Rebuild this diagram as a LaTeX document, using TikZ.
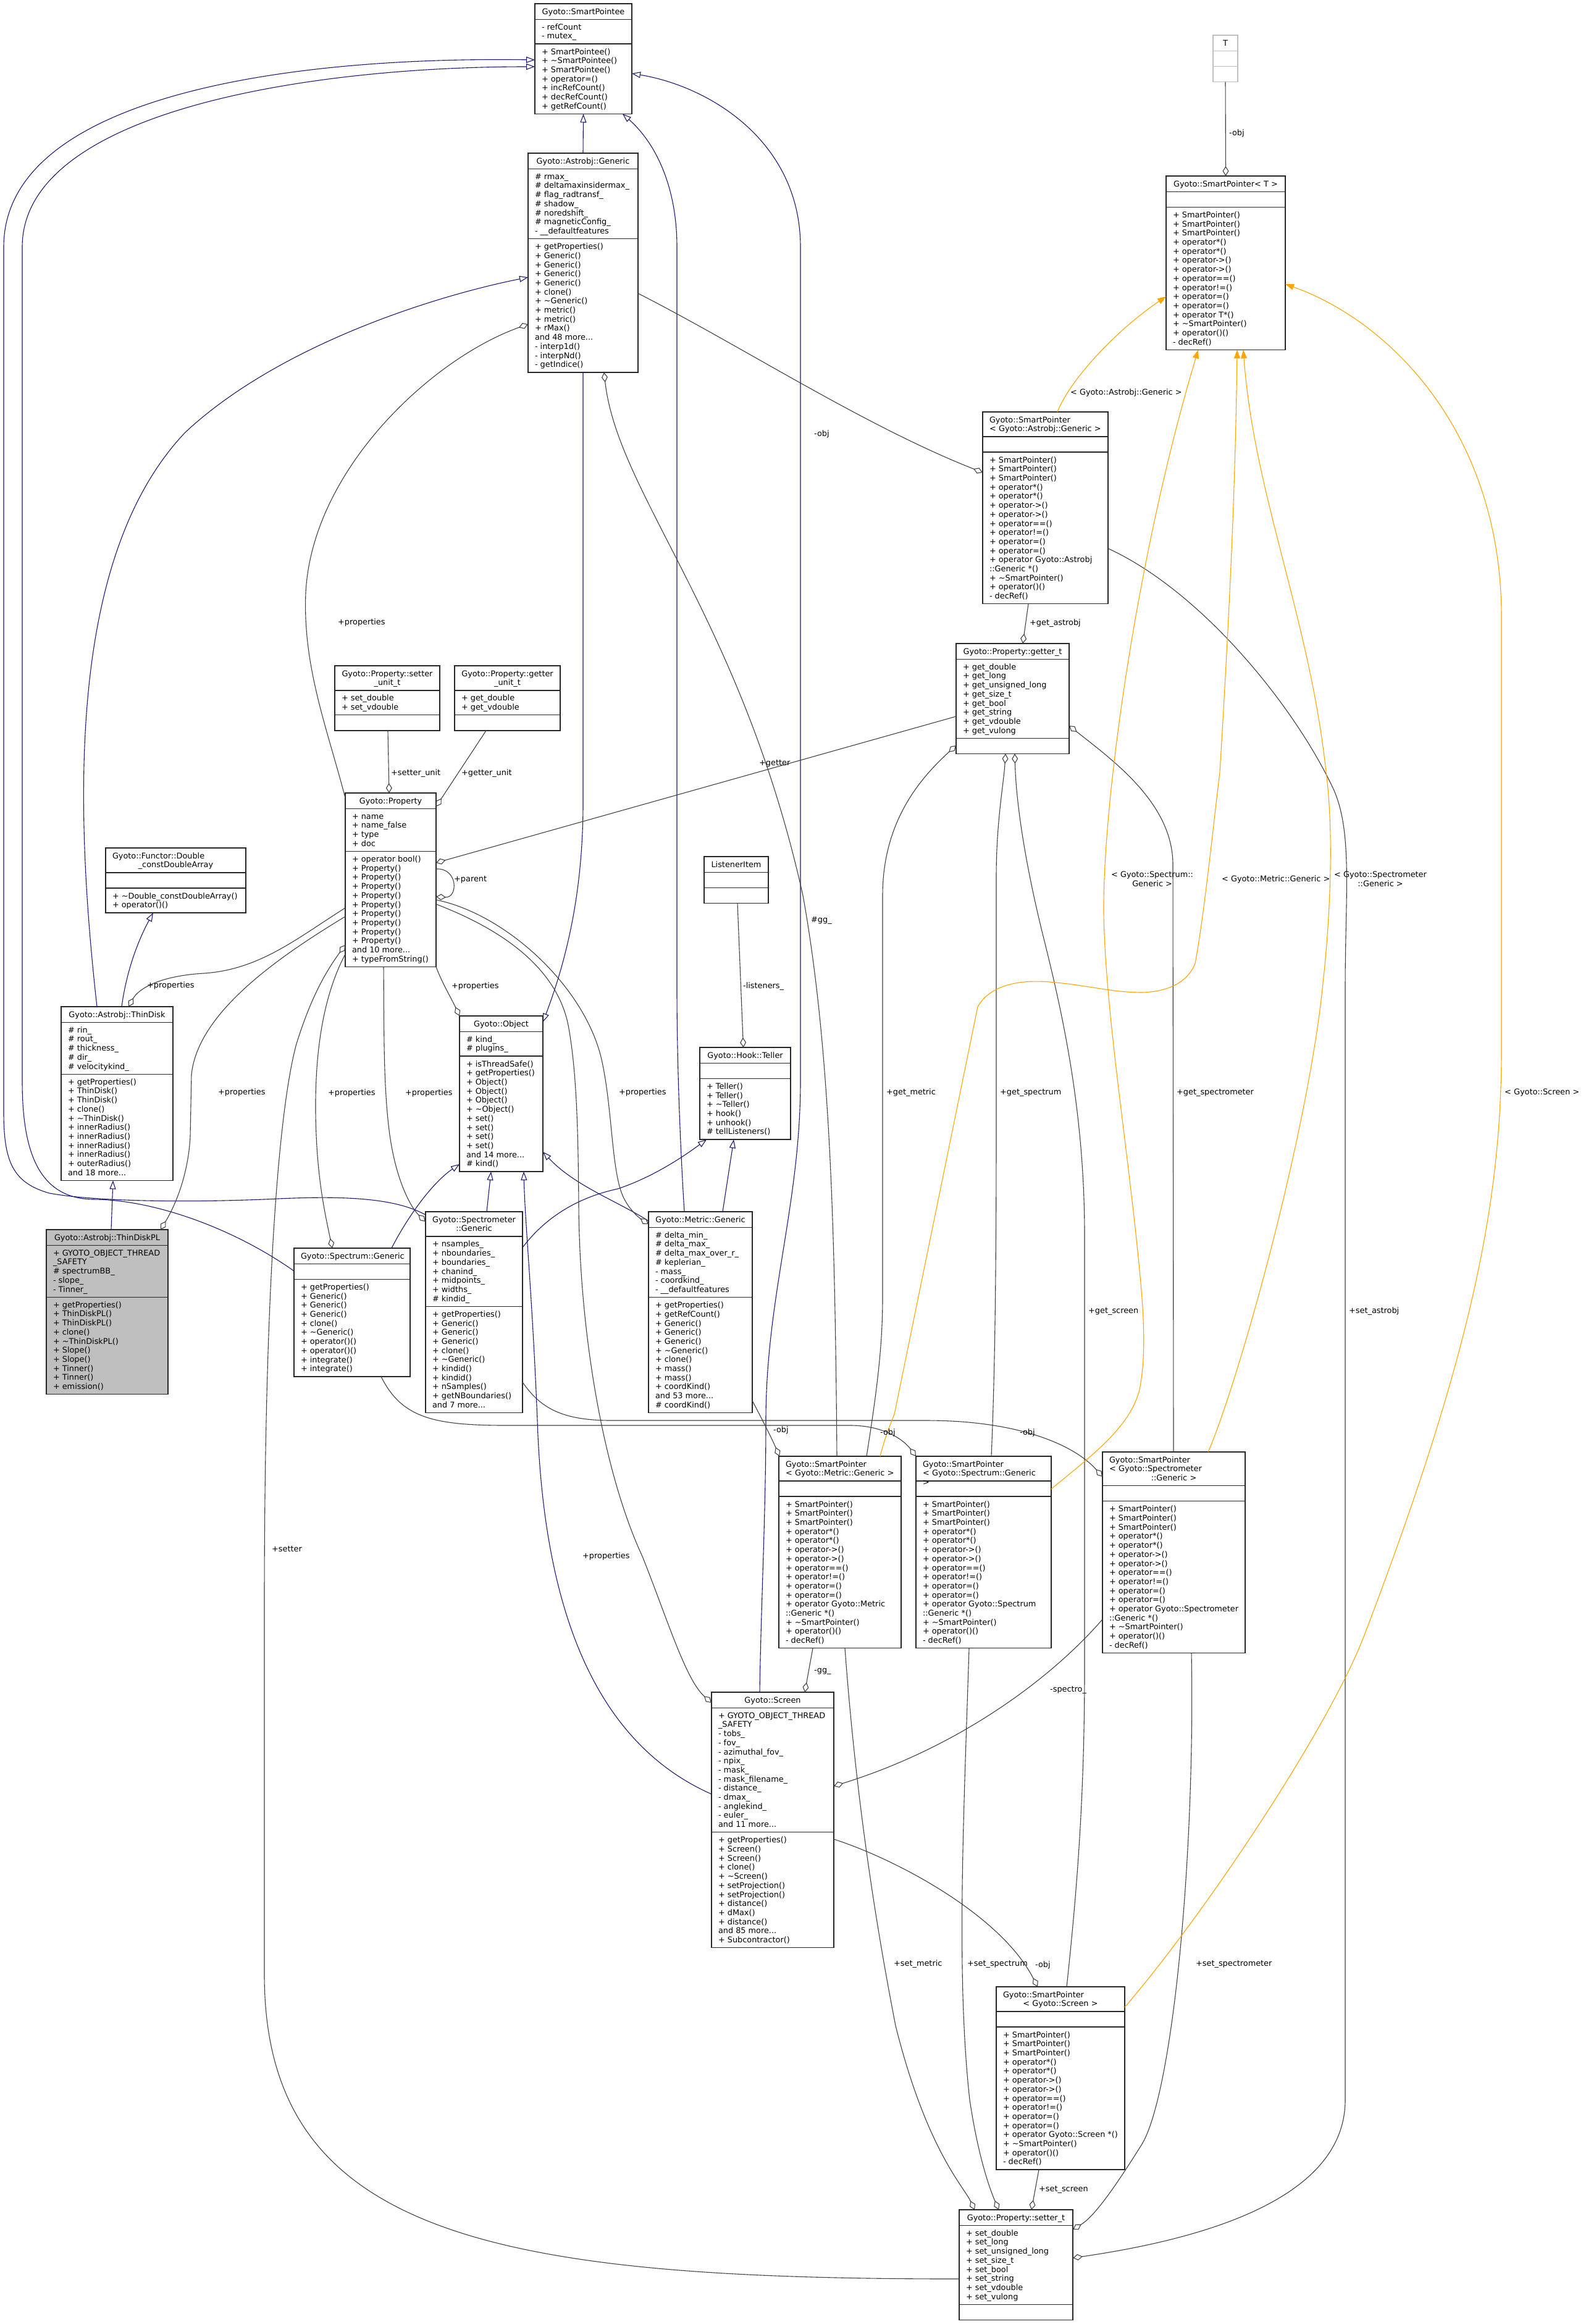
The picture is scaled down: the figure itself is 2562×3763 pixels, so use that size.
\documentclass[tikz,border=0pt]{standalone}
\usepackage{fontspec}
\setmainfont{DejaVu Sans}
\usetikzlibrary{arrows.meta,calc}
\definecolor{navy}{HTML}{191970}
\definecolor{eg}{HTML}{404040}
\definecolor{org}{HTML}{FFA500}
\definecolor{bgray}{HTML}{BFBFBF}
\newcommand\ms{\rule[-2.9pt]{0pt}{14.7pt}}
\newcommand\nl{\\\ms}
\newcommand\dfont{\fontsize{12.85}{14.7}\selectfont\lineskiplimit=-100pt\lineskip=0pt\relax}
\def\LH{14.7}\def\PD{10.5}\def\PX{11}
\def\clsparse#1/#2/#3\relax{\def\cnt{#1}\def\cna{#2}\def\cnm{#3}}
\tikzset{
 clsx/.style={},
 clsbox/.style={draw=black!85, line width=1.3pt, inner sep=0pt, outer sep=0pt},
 clstxt/.style={font=\dfont, inner sep=0pt, outer sep=0pt},
 lbl/.style={font=\dfont, inner sep=0pt, anchor=west},
 inh/.style={draw=navy, line width=1.1pt, -{Triangle[open,length=14pt,width=10pt]}},
 agg/.style={draw=eg, line width=1.1pt, -{Diamond[open,length=16pt,width=10pt]}},
 tpl/.style={draw=org, line width=1.1pt, -{Triangle[length=14pt,width=10pt,fill=org]}},
}
\newcommand\cls[9][align=center]{%
  \clsparse#6\relax
  \pgfmathsetmacro\hT{\cnt*\LH+\PD}%
  \pgfmathsetmacro\hA{max(\cna,1)*\LH+\PD}%
  \pgfmathsetmacro\hM{max(\cnm,1)*\LH+\PD}%
  \pgfmathsetmacro\hTot{\hT+\hA+\hM}%
  \pgfmathsetmacro\yA{#4+\hT}%
  \pgfmathsetmacro\yM{#4+\hT+\hA}%
  \pgfmathsetmacro\tw{#5-2*\PX}%
  \node[clsbox,clsx,minimum width=#5pt,minimum height=\hTot pt,anchor=north west] (#2) at (#3,#4) {};
  \draw[clsbox,clsx,fill=none] (#3,\yA) -- ++(#5,0) (#3,\yM) -- ++(#5,0);
  \node[clstxt,#1,text width=\tw pt,anchor=north] (#2-t) at (#3+#5/2,#4+\PD/2) {\ms #7};
  \ifnum\cna>0 \node[clstxt,align=left,anchor=north west] (#2-a) at (#3+\PX,\yA+\PD/2) {\ms #8};\fi
  \ifnum\cnm>0 \node[clstxt,align=left,anchor=north west] (#2-m) at (#3+\PX,\yM+\PD/2) {\ms #9};\fi
}
\newcommand\spmethods[1]{+ SmartPointer()\nl+ SmartPointer()\nl+ SmartPointer()\nl+ operator*()\nl+ operator*()\nl+ operator->()\nl+ operator->()\nl+ operator==()\nl+ operator!=()\nl+ operator=()\nl+ operator=()\nl+ operator #1\nl+ \textasciitilde SmartPointer()\nl+ operator()()\nl- decRef()}
\begin{document}
\begin{tikzpicture}[x=1pt,y=-1pt]
\fill[white] (0,0) rectangle (2562,3763);
\path[use as bounding box] (0,0) rectangle (2562,3763);

% ---------------- classes ----------------
\cls{spte}{866}{6}{157}{1/2/7}{Gyoto::SmartPointee}{- refCount\nl- mutex\_}{+ SmartPointee()\nl+ \textasciitilde SmartPointee()\nl+ SmartPointee()\nl+ operator=()\nl+ incRefCount()\nl+ decRefCount()\nl+ getRefCount()}
\cls{agen}{855}{248}{178}{1/7/14}{Gyoto::Astrobj::Generic}{\# rmax\_\nl\# deltamaxinsidermax\_\nl\# flag\_radtransf\_\nl\# shadow\_\nl\# noredshift\_\nl\# magneticConfig\_\nl- \_\_defaultfeatures}{+ getProperties()\nl+ Generic()\nl+ Generic()\nl+ Generic()\nl+ Generic()\nl+ clone()\nl+ \textasciitilde Generic()\nl+ metric()\nl+ metric()\nl+ rMax()\nl and 48 more...\nl- interp1d()\nl- interpNd()\nl- getIndice()}
\tikzset{clsx/.style={draw=bgray}}
\cls{tT}{1964}{57}{40}{1/0/0}{T}{}{}
\tikzset{clsx/.style={}}
\cls{spT}{1888}{285}{193}{1/0/15}{Gyoto::SmartPointer< T >}{}{\spmethods{T*()}}
\cls[align=left]{spA}{1591}{667}{203}{2/0/16}{Gyoto::SmartPointer\nl< Gyoto::Astrobj::Generic >}{}{\spmethods{Gyoto::Astrobj\nl::Generic *()}}
\cls{gett}{1548}{1042}{183}{1/8/0}{Gyoto::Property::getter\_t}{+ get\_double\nl+ get\_long\nl+ get\_unsigned\_long\nl+ get\_size\_t\nl+ get\_bool\nl+ get\_string\nl+ get\_vdouble\nl+ get\_vulong}{}
\cls{setu}{542}{1078}{170}{2/2/0}{Gyoto::Property::setter\nl\_unit\_t}{+ set\_double\nl+ set\_vdouble}{}
\cls{getu}{736}{1078}{171}{2/2/0}{Gyoto::Property::getter\nl\_unit\_t}{+ get\_double\nl+ get\_vdouble}{}
\cls{prop}{559}{1284}{147}{1/4/12}{Gyoto::Property}{+ name\nl+ name\_false\nl+ type\nl+ doc}{+ operator bool()\nl+ Property()\nl+ Property()\nl+ Property()\nl+ Property()\nl+ Property()\nl+ Property()\nl+ Property()\nl+ Property()\nl+ Property()\nl and 10 more...\nl+ typeFromString()}
\cls[align=left]{func}{171}{1373}{227}{2/0/2}{Gyoto::Functor::Double\nl\makebox[\hsize]{\_constDoubleArray}}{}{+ \textasciitilde Double\_constDoubleArray()\nl+ operator()()}
\cls{tdisk}{99}{1630}{181}{1/5/11}{Gyoto::Astrobj::ThinDisk}{\# rin\_\nl\# rout\_\nl\# thickness\_\nl\# dir\_\nl\# velocitykind\_}{+ getProperties()\nl+ ThinDisk()\nl+ ThinDisk()\nl+ clone()\nl+ \textasciitilde ThinDisk()\nl+ innerRadius()\nl+ innerRadius()\nl+ innerRadius()\nl+ innerRadius()\nl+ outerRadius()\nl and 18 more...}
\tikzset{clsx/.style={fill=bgray}}
\cls{tdpl}{75}{1991}{197}{1/5/10}{Gyoto::Astrobj::ThinDiskPL}{+ GYOTO\_OBJECT\_THREAD\nl\_SAFETY\nl\# spectrumBB\_\nl- slope\_\nl- Tinner\_}{+ getProperties()\nl+ ThinDiskPL()\nl+ ThinDiskPL()\nl+ clone()\nl+ \textasciitilde ThinDiskPL()\nl+ Slope()\nl+ Slope()\nl+ Tinner()\nl+ Tinner()\nl+ emission()}
\tikzset{clsx/.style={}}
\cls{lst}{1140}{1387}{104}{1/0/0}{ListenerItem}{}{}
\cls{obj}{744}{1645}{135}{1/2/12}{Gyoto::Object}{\# kind\_\nl\# plugins\_}{+ isThreadSafe()\nl+ getProperties()\nl+ Object()\nl+ Object()\nl+ Object()\nl+ \textasciitilde Object()\nl+ set()\nl+ set()\nl+ set()\nl+ set()\nl and 14 more...\nl\# kind()}
\cls{tell}{1133}{1696}{147}{1/0/6}{Gyoto::Hook::Teller}{}{+ Teller()\nl+ Teller()\nl+ \textasciitilde Teller()\nl+ hook()\nl+ unhook()\nl\# tellListeners()}
\cls{spec}{476}{2021}{188}{1/0/10}{Gyoto::Spectrum::Generic}{}{+ getProperties()\nl+ Generic()\nl+ Generic()\nl+ Generic()\nl+ clone()\nl+ \textasciitilde Generic()\nl+ operator()()\nl+ operator()()\nl+ integrate()\nl+ integrate()}
\cls{spm}{689}{1962}{157}{2/7/11}{Gyoto::Spectrometer\nl::Generic}{+ nsamples\_\nl+ nboundaries\_\nl+ boundaries\_\nl+ chanind\_\nl+ midpoints\_\nl+ widths\_\nl\# kindid\_}{+ getProperties()\nl+ Generic()\nl+ Generic()\nl+ Generic()\nl+ clone()\nl+ \textasciitilde Generic()\nl+ kindid()\nl+ kindid()\nl+ nSamples()\nl+ getNBoundaries()\nl and 7 more...}
\cls{met}{1050}{1962}{168}{1/7/12}{Gyoto::Metric::Generic}{\# delta\_min\_\nl\# delta\_max\_\nl\# delta\_max\_over\_r\_\nl\# keplerian\_\nl- mass\_\nl- coordkind\_\nl- \_\_defaultfeatures}{+ getProperties()\nl+ getRefCount()\nl+ Generic()\nl+ Generic()\nl+ Generic()\nl+ \textasciitilde Generic()\nl+ clone()\nl+ mass()\nl+ mass()\nl+ coordKind()\nl and 53 more...\nl\# coordKind()}
\cls[align=left]{spMet}{1261}{2358}{198}{2/0/16}{Gyoto::SmartPointer\nl< Gyoto::Metric::Generic >}{}{\spmethods{Gyoto::Metric\nl::Generic *()}}
\cls[align=left]{spSpc}{1483}{2358}{219}{2/0/16}{Gyoto::SmartPointer\nl< Gyoto::Spectrum::Generic >}{}{\spmethods{Gyoto::Spectrum\nl::Generic *()}}
\cls[align=left]{spSpm}{1785}{2351}{231}{3/0/16}{Gyoto::SmartPointer\nl< Gyoto::Spectrometer\nl\makebox[\hsize]{::Generic >}}{}{\spmethods{Gyoto::Spectrometer\nl::Generic *()}}
\cls{scr}{1152}{2740}{198}{1/13/12}{Gyoto::Screen}{+ GYOTO\_OBJECT\_THREAD\nl\_SAFETY\nl- tobs\_\nl- fov\_\nl- azimuthal\_fov\_\nl- npix\_\nl- mask\_\nl- mask\_filename\_\nl- distance\_\nl- dmax\_\nl- anglekind\_\nl- euler\_\nl and 11 more...}{+ getProperties()\nl+ Screen()\nl+ Screen()\nl+ clone()\nl+ \textasciitilde Screen()\nl+ setProjection()\nl+ setProjection()\nl+ distance()\nl+ dMax()\nl+ distance()\nl and 85 more...\nl+ Subcontractor()}
\cls[align=left]{spScr}{1613}{3217}{208}{2/0/15}{Gyoto::SmartPointer\nl\makebox[\hsize]{< Gyoto::Screen >}}{}{\spmethods{Gyoto::Screen *()}}
\cls{sett}{1553}{3578}{184}{1/8/0}{Gyoto::Property::setter\_t}{+ set\_double\nl+ set\_long\nl+ set\_unsigned\_long\nl+ set\_size\_t\nl+ set\_bool\nl+ set\_string\nl+ set\_vdouble\nl+ set\_vulong}{}

% ---------------- inheritance ----------------
\draw[inh] (agen.north) -- (spte.south);
\draw[inh] ($(tdisk.north west)+(58,0)$) .. controls (120,1300) and (110,900) .. (300,700) .. controls (450,560) and (700,480) .. ($(agen.north west)+(0,201)$);
\draw[inh] ($(tdisk.north west)+(98,0)$) .. controls (205,1570) and (225,1520) .. ($(func.north west)+(77,105)$);
\draw[inh] ($(tdpl.north west)+(105,0)$) -- ($(tdisk.south west)+(84,0)$);
\draw[inh] ($(spec.north west)+(0,37)$) .. controls (380,1990) and (250,1942) .. (150,1942) .. controls (60,1940) and (36,1860) .. (36,1750) -- (36,400) .. controls (36,180) and (500,108) .. ($(spte.north west)+(0,102)$);
\draw[inh] ($(spm.north west)+(0,5)$) .. controls (640,1940) and (560,1936) .. (450,1941) .. controls (300,1948) and (150,1945) .. (80,1932) .. controls (20,1915) and (6,1880) .. (6,1800) -- (6,400) .. controls (6,160) and (450,91) .. ($(spte.north west)+(0,91)$);
\draw[inh] ($(spec.north west)+(158,0)$) .. controls (660,1970) and (700,1915) .. ($(obj.north west)+(0,240)$);
\draw[inh] ($(spm.north west)+(99,0)$) -- ($(obj.north west)+(51,252)$);
\draw[inh] ($(scr.north west)+(0,165)$) .. controls (960,2820) and (880,2600) .. (870,2300) .. controls (862,2100) and (850,1980) .. ($(obj.north west)+(104,252)$);
\draw[inh] ($(met.north west)+(0,15)$) .. controls (1000,1945) and (930,1920) .. ($(obj.north west)+(135,220)$);
\draw[inh] ($(met.north west)+(120,0)$) -- ($(tell.north west)+(55,149.1)$);
\draw[inh] ($(spm.north west)+(157,58)$) .. controls (880,1975) and (930,1940) .. (1000,1925) .. controls (1060,1905) and (1110,1870) .. ($(tell.north west)+(11,149.1)$);
\draw[inh] ($(met.north west)+(58,0)$) .. controls (1104,1900) and (1096,1750) .. (1096,1600) -- (1096,400) .. controls (1096,300) and (1060,230) .. ($(spte.north west)+(142,178.5)$);
\draw[inh] ($(scr.north west)+(78,0)$) .. controls (1232,2600) and (1240,2450) .. (1240,2300) .. controls (1240,2100) and (1296,1950) .. (1296,1750) -- (1296,400) .. controls (1296,230) and (1150,140) .. ($(spte.north west)+(157,113)$);
\draw[inh] (agen.south) -- (944,1300) .. controls (944,1450) and (915,1560) .. ($(obj.north west)+(135,10)$);

% ---------------- aggregation ----------------
\draw[agg] (tT.south) -- (spT.north);
\draw[agg] ($(setu.north west)+(86,105)$) -- ($(prop.north west)+(71,0)$);
\draw[agg] ($(getu.north west)+(51,105)$) -- ($(prop.north west)+(147,22)$);
\draw[agg] ($(prop.north west)+(147,123)$) .. controls (742,1405) and (742,1454) .. ($(prop.north west)+(147,168)$);
\draw[agg] ($(gett.north west)+(0,118)$) -- ($(prop.north west)+(147,113)$);
\draw[agg] ($(sett.north west)+(0,112)$) .. controls (800,3690) and (430,3620) .. (428,3200) -- (428,2600) .. controls (428,2100) and (450,1800) .. (480,1690) .. controls (505,1610) and (530,1570) .. ($(prop.north west)+(0,246)$);
\draw[agg] ($(prop.north west)+(0,8)$) .. controls (530,1180) and (490,1080) .. (495,960) .. controls (505,760) and (700,580) .. ($(agen.north west)+(0,277)$);
\draw[agg] ($(prop.north west)+(0,186)$) .. controls (480,1520) and (420,1570) .. (330,1576) .. controls (260,1580) and (225,1600) .. ($(tdisk.north west)+(109,0)$);
\draw[agg] ($(prop.north west)+(0,200)$) .. controls (450,1550) and (320,1640) .. (310,1740) -- (308,1840) .. controls (305,1900) and (285,1950) .. ($(tdpl.north west)+(185,0)$);
\draw[agg] ($(prop.north west)+(0,261)$) .. controls (530,1600) and (510,1680) .. (511,1800) .. controls (512,1900) and (525,1960) .. ($(spec.north west)+(62,0)$);
\draw[agg] ($(prop.north west)+(62,281.4)$) .. controls (622,1650) and (620,1750) .. (630,1830) .. controls (640,1910) and (665,1955) .. ($(spm.north west)+(0,16)$);
\draw[agg] ($(prop.north west)+(147,281.4)$) .. controls (715,1590) and (730,1615) .. (obj.north west);
\draw[agg] ($(prop.north west)+(147,173)$) .. controls (820,1480) and (950,1600) .. (975,1720) .. controls (992,1800) and (990,1900) .. (1010,1940) .. controls (1020,1960) and (1035,1972) .. ($(met.north west)+(0,20)$);
\draw[agg] ($(prop.north west)+(147,180)$) .. controls (800,1500) and (900,1560) .. (920,1660) .. controls (935,1740) and (936,1850) .. (937,1950) .. controls (938,2150) and (975,2380) .. (1040,2520) .. controls (1080,2620) and (1110,2720) .. ($(scr.north west)+(0,17)$);
\draw[agg] ($(lst.north west)+(54,75.6)$) -- ($(tell.north west)+(70.5,0)$);
\draw[agg] ($(agen.north west)+(178,227)$) .. controls (1200,560) and (1400,690) .. ($(spA.north west)+(0,98)$);
\draw[agg] ($(spA.north west)+(74,310.8)$) -- ($(gett.north west)+(108,0)$);
\draw[agg] ($(spA.north west)+(203,221)$) .. controls (1950,960) and (2100,1150) .. (2160,1280) .. controls (2190,1350) and (2178,1450) .. (2178,1600) -- (2178,3400) .. controls (2178,3560) and (1950,3625) .. ($(sett.north west)+(184,78)$);
\draw[agg] ($(spMet.north west)+(142,0)$) .. controls (1420,2250) and (1429,2180) .. (1429,2100) -- (1429,1450) .. controls (1429,1330) and (1490,1260) .. ($(gett.north west)+(0,165)$);
\draw[agg] ($(spSpc.north west)+(122,0)$) .. controls (1612,2200) and (1613,2000) .. (1613,1800) -- (1613,1420) .. controls (1613,1330) and (1625,1270) .. ($(gett.north west)+(80,178.5)$);
\draw[agg] ($(spSpm.north west)+(115,0)$) -- (1899,1400) .. controls (1899,1300) and (1800,1230) .. ($(gett.north west)+(183,133)$);
\draw[agg] ($(spScr.north west)+(114,0)$) .. controls (1745,3050) and (1756,2900) .. (1756,2700) -- (1756,2000) .. controls (1756,1800) and (1720,1640) .. (1690,1520) .. controls (1660,1400) and (1645,1300) .. ($(gett.north west)+(95,178.5)$);
\draw[agg] ($(spMet.north west)+(107,310.8)$) .. controls (1385,2900) and (1415,3100) .. (1450,3280) .. controls (1500,3480) and (1560,3540) .. ($(sett.north west)+(25,0)$);
\draw[agg] ($(spSpc.north west)+(86,310.8)$) .. controls (1560,2950) and (1548,3200) .. (1570,3400) .. controls (1585,3500) and (1605,3550) .. ($(sett.north west)+(64,0)$);
\draw[agg] ($(spScr.north west)+(69,296.1)$) -- ($(sett.north west)+(117,0)$);
\draw[agg] ($(spSpm.north west)+(144,325.5)$) .. controls (1935,3000) and (1900,3380) .. (1850,3470) .. controls (1800,3550) and (1770,3590) .. ($(sett.north west)+(184,32)$);
\draw[agg] ($(met.north west)+(168,306)$) .. controls (1235,2300) and (1250,2330) .. ($(spMet.north west)+(1,0)$);
\draw[agg] ($(spec.north west)+(141,207.9)$) .. controls (650,2295) and (700,2308) .. (820,2308) -- (1380,2308) .. controls (1430,2309) and (1462,2330) .. (spSpc.north west);
\draw[agg] ($(spm.north west)+(157,276)$) .. controls (875,2280) and (910,2300) .. (990,2300) -- (1500,2300) .. controls (1650,2300) and (1740,2340) .. ($(spSpm.north west)+(0,40)$);
\draw[agg] ($(scr.north west)+(198,238)$) .. controls (1450,3010) and (1620,3100) .. ($(spScr.north west)+(67,0)$);
\draw[agg] ($(spMet.north west)+(55,310.8)$) -- ($(scr.north west)+(151,0)$);
\draw[agg] ($(spSpm.north west)+(0,271)$) .. controls (1700,2720) and (1550,2830) .. ($(scr.north west)+(198,152)$);
\draw[agg] ($(spMet.north west)+(94,0)$) .. controls (1352,2000) and (1345,1700) .. (1300,1450) .. controls (1200,1000) and (1000,800) .. ($(agen.north west)+(123,355)$);

% ---------------- template instances ----------------
\draw[tpl] ($(spA.north west)+(121,0)$) .. controls (1730,620) and (1800,540) .. ($(spT.north west)+(0,195)$);
\draw[tpl] ($(spSpc.north west)+(219,53)$) .. controls (1770,2355) and (1830,2310) .. (1845,2250) .. controls (1855,2200) and (1852,2140) .. (1848,2090) .. controls (1830,1880) and (1790,1650) .. (1787,1480) .. controls (1785,1300) and (1840,900) .. ($(spT.north west)+(52,281.4)$);
\draw[tpl] ($(spMet.north west)+(164,0)$) .. controls (1432,2330) and (1440,2310) .. (1448,2290) -- (1583,1630) .. controls (1600,1600) and (1640,1585) .. (1700,1590) .. controls (1760,1595) and (1800,1607) .. (1850,1607) .. controls (1900,1605) and (1925,1585) .. (1935,1560) .. controls (1950,1480) and (1965,1330) .. (1975,1250) .. controls (1990,1000) and (2000,800) .. ($(spT.north west)+(115,281.4)$);
\draw[tpl] ($(spSpm.north west)+(171,0)$) .. controls (2000,2250) and (2100,1900) .. (2135,1650) .. controls (2155,1500) and (2160,1350) .. (2147,1250) .. controls (2120,1000) and (2030,800) .. ($(spT.north west)+(125,281.4)$);
\draw[tpl] ($(spScr.north west)+(208,33)$) .. controls (1950,3100) and (2150,2800) .. (2208,2650) .. controls (2380,2200) and (2431,1950) .. (2431,1700) -- (2431,1000) .. controls (2431,700) and (2250,520) .. ($(spT.north west)+(193,175)$);

% ---------------- labels ----------------
\node[lbl] (L1) at (1990,216) {-obj};
\node[lbl] (L2) at (633,1252) {+setter\_unit};
\node[lbl] (L3) at (747,1252) {+getter\_unit};
\node[lbl] (L4) at (735,1424) {+parent};
\node[lbl] (L5) at (1229,1236) {+getter};
\node[lbl] (L6) at (440,2508) {+setter};
\node[lbl] (L7) at (547,1008) {+properties};
\node[lbl] (L8) at (238,1596) {+properties};
\node[lbl] (L9) at (353,1769) {+properties};
\node[lbl] (L10) at (531,1770) {+properties};
\node[lbl] (L11) at (656,1770) {+properties};
\node[lbl] (L12) at (731,1597) {+properties};
\node[lbl] (L13) at (1002,1769) {+properties};
\node[lbl] (L14) at (943,2520) {+properties};
\node[lbl] (L15) at (1203,1597) {-listeners\_};
\node[lbl] (L16) at (1318,703) {-obj};
\node[lbl] (L17) at (1667,1009) {+get\_astrobj};
\node[lbl] (L18) at (2184,2123) {+set\_astrobj};
\node[lbl] (L19) at (1435,1769) {+get\_metric};
\node[lbl] (L20) at (1619,1769) {+get\_spectrum};
\node[lbl] (L21) at (1905,1769) {+get\_spectrometer};
\node[lbl] (L22) at (1762,2123) {+get\_screen};
\node[lbl] (L23) at (1447,3180) {+set\_metric};
\node[lbl] (L24) at (1566,3180) {+set\_spectrum};
\node[lbl] (L25) at (1682,3545) {+set\_screen};
\node[lbl] (L26) at (1936,3180) {+set\_spectrometer};
\node[lbl] (L27) at (1252,2316) {-obj};
\node[lbl] (L28) at (1425,2320) {-obj};
\node[lbl] (L29) at (1651,2320) {-obj};
\node[lbl] (L30) at (1676,3182) {-obj};
\node[lbl] (L31) at (1318,2706) {-gg\_};
\node[lbl] (L32) at (1700,2736) {-spectro\_};
\node[lbl] (L33) at (1313,1490) {\#gg\_};
\node[lbl] (L34) at (1733,636) {< Gyoto::Astrobj::Generic >};
\node[lbl,align=center] (L35) at (1799,1423) {< Gyoto::Spectrum::\\Generic >};
\node[lbl] (L36) at (1978,1424) {< Gyoto::Metric::Generic >};
\node[lbl,align=center] (L37) at (2160,1423) {< Gyoto::Spectrometer\\::Generic >};
\node[lbl] (L38) at (2436,1769) {< Gyoto::Screen >};
\end{tikzpicture}
\end{document}
